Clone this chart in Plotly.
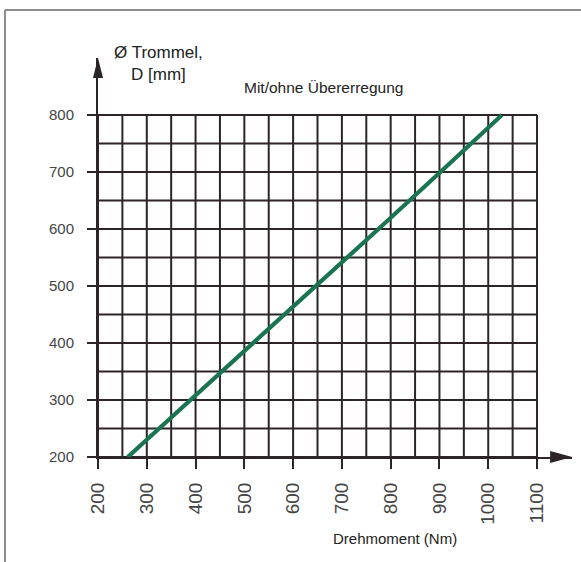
import plotly.graph_objects as go

# ---- data ----
torque_nm = [261, 390, 516, 646, 775, 902, 1028]
drum_d_mm = [200, 300, 400, 500, 600, 700, 800]

x_ticks = [200, 300, 400, 500, 600, 700, 800, 900, 1000, 1100]
y_ticks = [200, 300, 400, 500, 600, 700, 800]
grid_step = 50
x_min, x_max = 200, 1100
y_min, y_max = 200, 800
x_arrow_end = 1172
y_arrow_end = 900

W, H = 581, 562
X_PX_PER_UNIT = 0.4878
Y_PX_PER_UNIT = 0.57


def px(x):
    return x / W


def py(y):
    return 1 - y / H


x_dom = [px(98), px(98) + (x_arrow_end - x_min) * X_PX_PER_UNIT / W]
y_dom = [py(457), py(457) + (y_arrow_end - y_min) * Y_PX_PER_UNIT / H]


def xp(v):  # data -> paper
    return x_dom[0] + (v - x_min) / (x_arrow_end - x_min) * (x_dom[1] - x_dom[0])


def yp(v):
    return y_dom[0] + (v - y_min) / (y_arrow_end - y_min) * (y_dom[1] - y_dom[0])


grid_color = "#2c2427"

# grid as line traces
gx, gy = [], []
v = x_min
while v <= x_max:
    gx += [v, v, None]
    gy += [y_min, y_max, None]
    v += grid_step
v = y_min
while v <= y_max:
    gx += [x_min, x_max, None]
    gy += [v, v, None]
    v += grid_step

fig = go.Figure()
fig.add_trace(go.Scatter(x=gx, y=gy, mode="lines",
                         line=dict(color=grid_color, width=2),
                         hoverinfo="skip", showlegend=False))
fig.add_trace(go.Scatter(x=torque_nm, y=drum_d_mm, mode="lines",
                         line=dict(color="#1a744f", width=4.2),
                         showlegend=False, cliponaxis=False))

# arrowheads (paper coordinates derived from axis ends)
ax_len = 22 / W
ax_half = 6 / H
ay_len = 20 / H
ay_half = 5 / W
tx, ty = xp(x_arrow_end), yp(y_min)
fig.add_shape(type="path", xref="paper", yref="paper",
              path=f"M {tx} {ty} L {tx-ax_len} {ty+ax_half} L {tx-ax_len} {ty-ax_half} Z",
              fillcolor=grid_color, line=dict(width=0))
ux, uy = xp(x_min), yp(y_arrow_end)
fig.add_shape(type="path", xref="paper", yref="paper",
              path=f"M {ux} {uy} L {ux-ay_half} {uy-ay_len} L {ux+ay_half} {uy-ay_len} Z",
              fillcolor=grid_color, line=dict(width=0))

# frame
fig.add_shape(type="line", xref="paper", yref="paper",
              x0=px(5), x1=1, y0=py(10), y1=py(10),
              line=dict(color="#8a8a8a", width=2))
fig.add_shape(type="line", xref="paper", yref="paper",
              x0=px(5), x1=px(5), y0=py(10), y1=0,
              line=dict(color="#8a8a8a", width=2))

font_fam = "Liberation Sans, Arial, sans-serif"
fig.add_annotation(text="Ø Trommel,<br>D [mm]", xref="paper", yref="paper",
                   x=px(158), y=py(64), xanchor="center", yanchor="middle",
                   showarrow=False, align="center",
                   font=dict(family=font_fam, size=17, color="#222"))
fig.add_annotation(text="Mit/ohne Übererregung", xref="paper", yref="paper",
                   x=px(323), y=py(87), xanchor="center", yanchor="middle",
                   showarrow=False,
                   font=dict(family=font_fam, size=15.5, color="#222"))
fig.add_annotation(text="Drehmoment (Nm)", xref="paper", yref="paper",
                   x=px(395), y=py(538), xanchor="center", yanchor="middle",
                   showarrow=False,
                   font=dict(family=font_fam, size=15, color="#222"))

fig.update_layout(
    width=W, height=H, autosize=False,
    margin=dict(l=0, r=0, t=0, b=0, pad=0),
    paper_bgcolor="white", plot_bgcolor="white",
    xaxis=dict(domain=x_dom, automargin=False,
               range=[x_min, x_arrow_end], showgrid=False, zeroline=False,
               showline=True, linecolor=grid_color, linewidth=2,
               tickvals=x_ticks, ticktext=[str(t) for t in x_ticks],
               ticks="outside", ticklen=10, tickwidth=2, tickcolor=grid_color,
               tickangle=-90, ticklabelstandoff=6,
               tickfont=dict(family=font_fam, size=19, color="#444")),
    yaxis=dict(domain=y_dom, automargin=False,
               range=[y_min, y_arrow_end], showgrid=False, zeroline=False,
               showline=True, linecolor=grid_color, linewidth=2,
               tickvals=y_ticks, ticktext=[str(t) for t in y_ticks],
               ticks="outside", ticklen=9, tickwidth=2, tickcolor=grid_color,
               ticklabelstandoff=10,
               tickfont=dict(family=font_fam, size=15, color="#444")),
)

fig.write_html("out.html", config={"displayModeBar": False},
               post_script="document.body.style.margin='0';document.body.style.overflow='hidden';")
